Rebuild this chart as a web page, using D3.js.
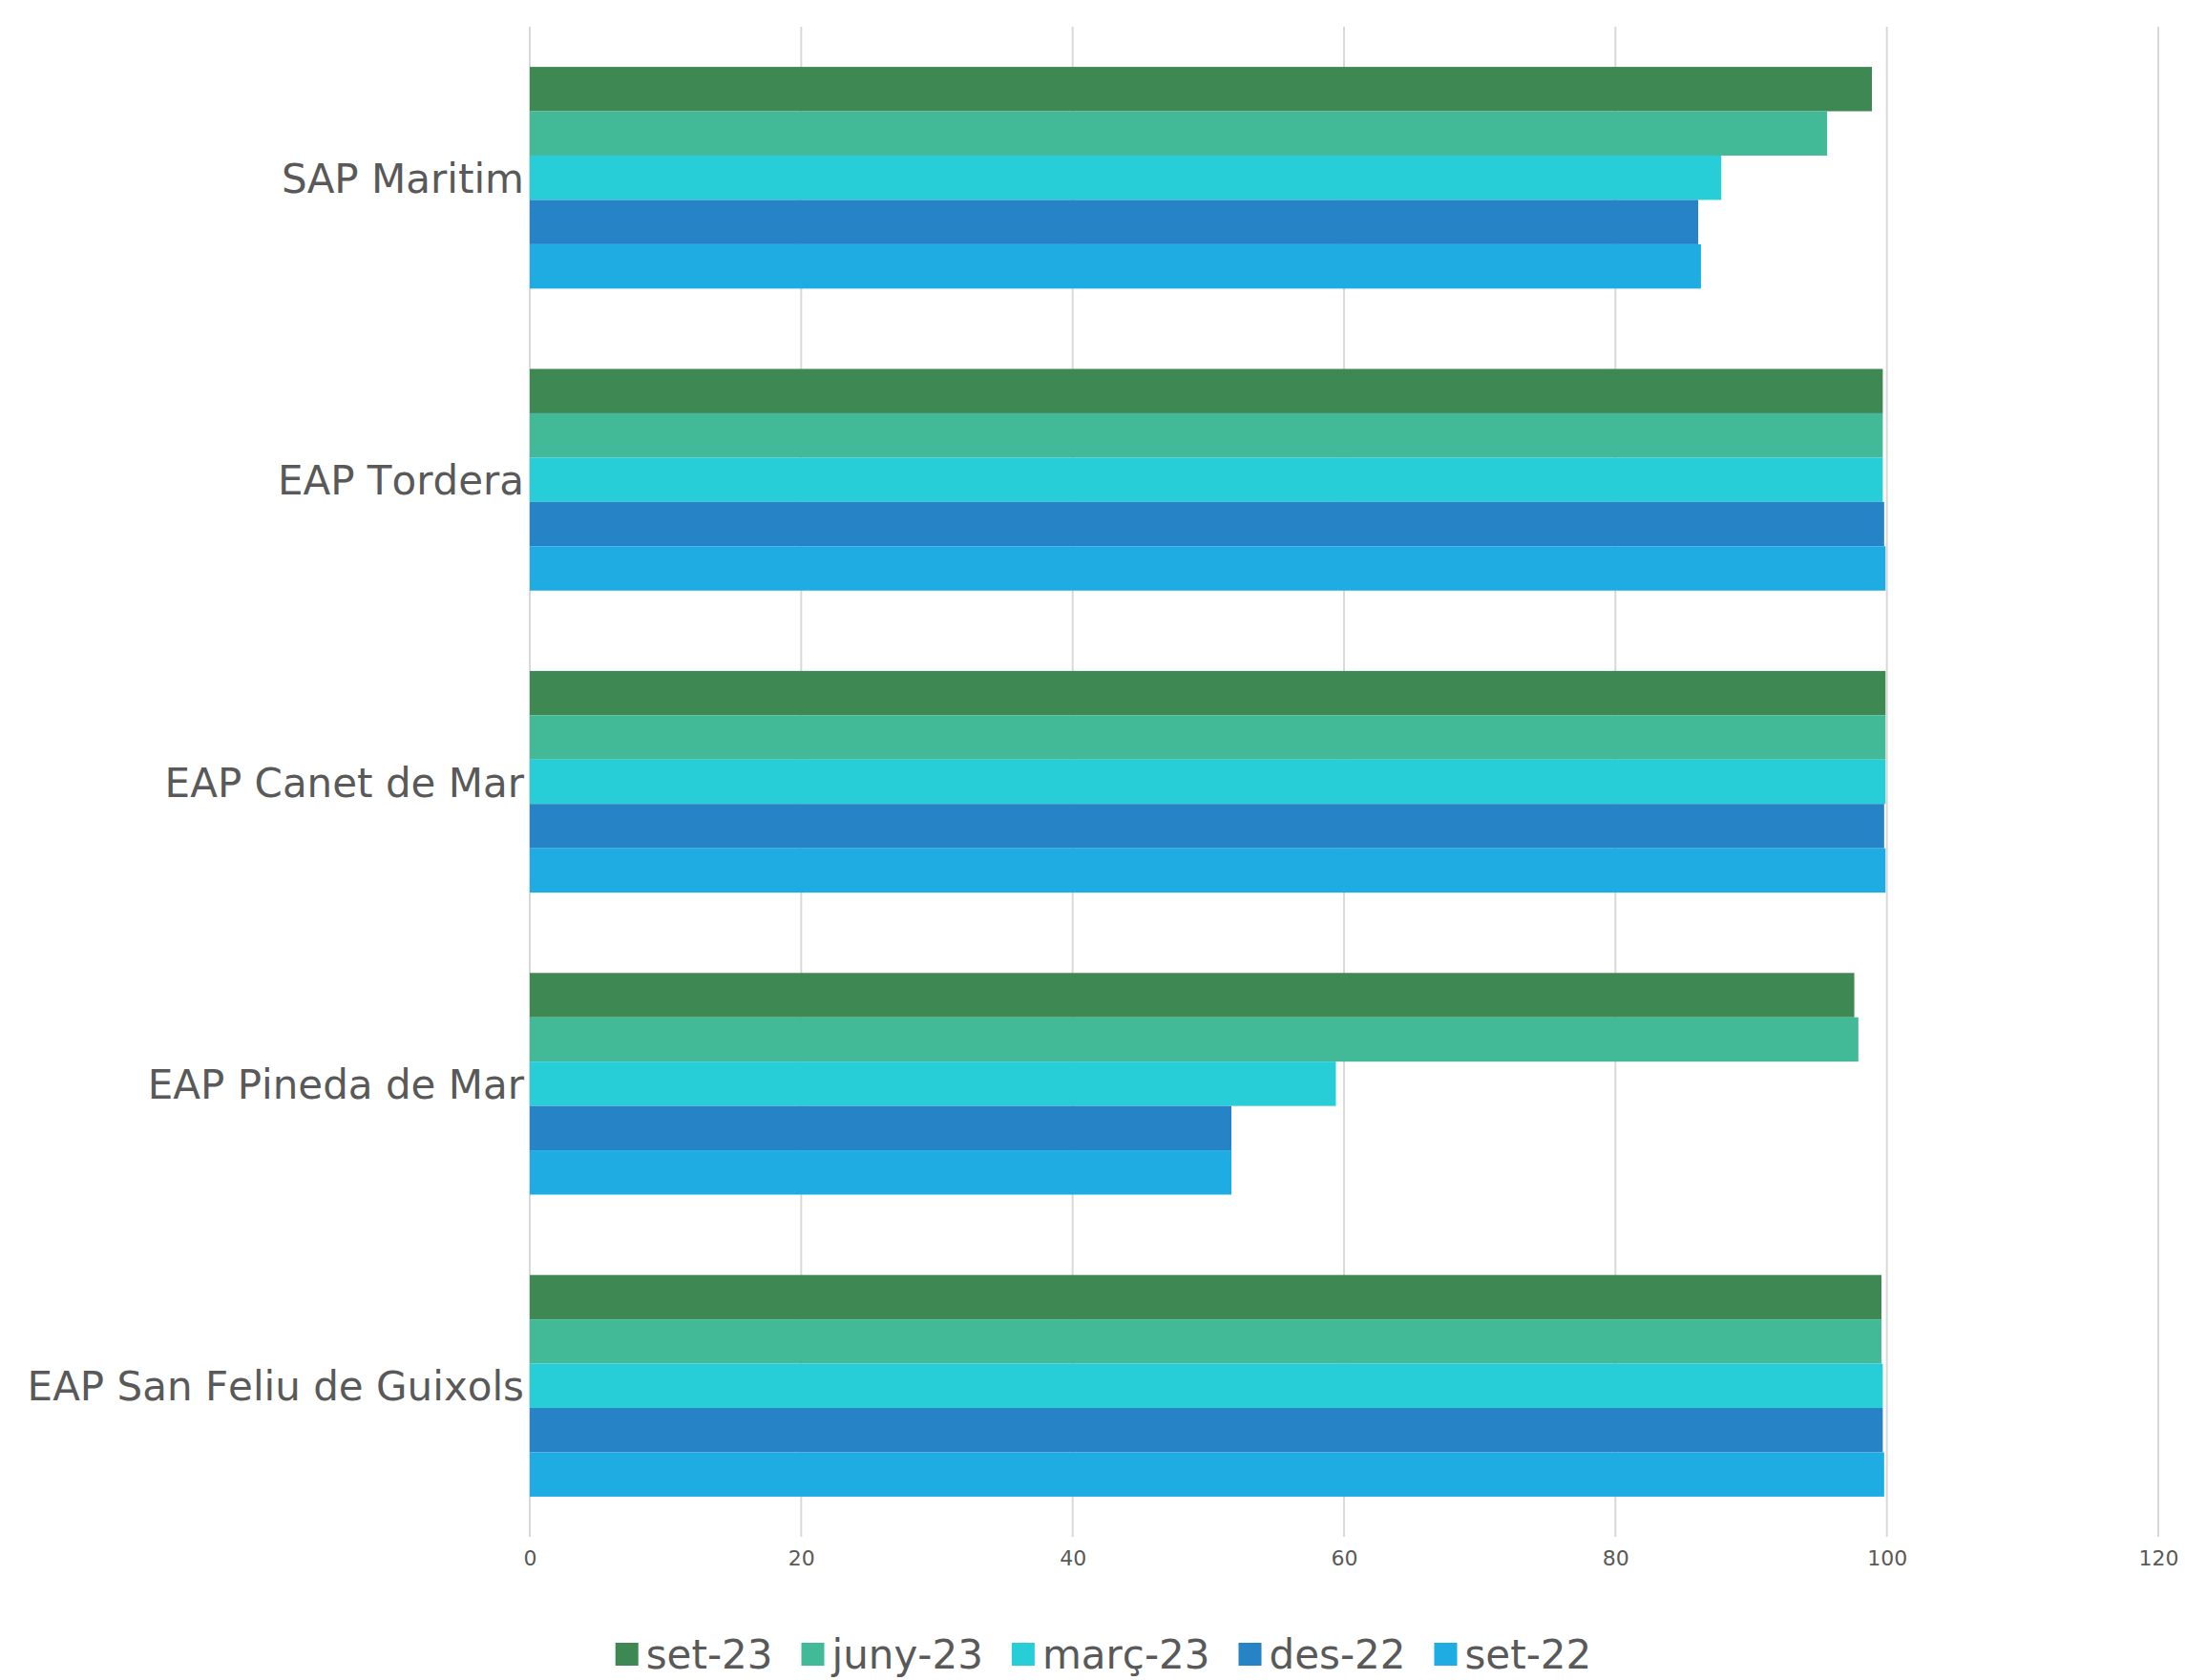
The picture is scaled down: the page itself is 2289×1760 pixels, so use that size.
<!DOCTYPE html>
<html>
<head>
<meta charset="utf-8">
<script src="https://cdn.jsdelivr.net/npm/d3@7"></script>
<style>
    body { margin: 0; background: #fff; }
    text { font-family: "DejaVu Sans", sans-serif; fill: #595959; font-kerning: none; }
</style>
</head>
<body>
<svg id="chart" width="2289" height="1760"></svg>
<script>
// categories (top to bottom)
const centres = ['SAP Maritim', 'EAP Tordera', 'EAP Canet de Mar', 'EAP Pineda de Mar', 'EAP San Feliu de Guixols'];

// series, in the order they are stacked inside each group
const seriesNames = ['set-23', 'juny-23', 'març-23', 'des-22', 'set-22'];
const seriesColors = ['#3E8853', '#43BA97', '#27CDD7', '#2683C6', '#1EACE3'];

// values per series, one per centre
const set23  = [98.9, 99.7, 99.9, 97.6, 99.6];
const juny23 = [95.6, 99.7, 99.9, 97.9, 99.6];
const marc23 = [87.8, 99.7, 99.9, 59.4, 99.7];
const des22  = [86.1, 99.8, 99.8, 51.7, 99.7];
const set22  = [86.3, 99.9, 99.9, 51.7, 99.8];

const xTicks = [0, 20, 40, 60, 80, 100, 120];

const seriesValues = [set23, juny23, marc23, des22, set22];

let svg = d3.select('#chart');

const plot = { left: 555, right: 2261, top: 28, bottom: 1610 };

const x = d3.scaleLinear()
    .domain([0, 120])
    .range([plot.left, plot.right]);

const y = d3.scaleBand()
    .domain(centres)
    .range([plot.top, plot.bottom])
    .paddingInner(0.266)
    .paddingOuter(0.133);

const ySub = d3.scaleBand()
    .domain(seriesNames)
    .range([0, y.bandwidth()]);

const color = d3.scaleOrdinal(seriesNames, seriesColors);

// vertical gridlines (the 0 line included)
svg.append('g')
    .selectAll('line')
    .data(xTicks)
    .join('line')
    .attr('x1', d => x(d))
    .attr('x2', d => x(d))
    .attr('y1', plot.top)
    .attr('y2', plot.bottom)
    .attr('stroke', '#d9d9d9')
    .attr('stroke-width', 2);

// bars
const groups = svg.append('g')
    .selectAll('g')
    .data(centres)
    .join('g')
    .attr('transform', d => `translate(0,${y(d)})`);

groups.selectAll('rect')
    .data((d, i) => seriesNames.map((s, j) => ({ serie: s, value: seriesValues[j][i] })))
    .join('rect')
    .attr('x', x(0))
    .attr('y', d => ySub(d.serie))
    .attr('width', d => x(d.value) - x(0))
    .attr('height', ySub.bandwidth())
    .attr('fill', d => color(d.serie));

// category axis (labels only)
const yAxis = svg.append('g')
    .attr('transform', `translate(${plot.left},0)`)
    .call(d3.axisLeft(y).tickSize(0).tickPadding(6));
yAxis.select('.domain').remove();
yAxis.selectAll('text')
    .attr('font-size', '42px')
    .attr('dy', '0.37em')
    .attr('font-family', '"DejaVu Sans", sans-serif')
    .attr('fill', '#595959');

// value axis
const xAxis = svg.append('g')
    .attr('transform', `translate(0,${plot.bottom})`)
    .call(d3.axisBottom(x).tickValues(xTicks).tickSize(0).tickPadding(14));
xAxis.select('.domain').remove();
xAxis.selectAll('text')
    .attr('font-size', '22px')
    .attr('font-family', '"DejaVu Sans", sans-serif')
    .attr('fill', '#595959');

// legend
const legend = svg.append('g');
let cursor = 0;
seriesNames.forEach((s, i) => {
    let item = legend.append('g').attr('transform', `translate(${cursor},0)`);
    item.append('rect')
        .attr('x', 0)
        .attr('y', -12)
        .attr('width', 24)
        .attr('height', 24)
        .attr('fill', color(s));
    let label = item.append('text')
        .attr('x', 32)
        .attr('dy', '0.35em')
        .attr('font-size', '42px')
        .text(s);
    cursor += 32 + label.node().getComputedTextLength() + 30;
});
const legendWidth = cursor - 30;
legend.attr('transform', `translate(${1156 - legendWidth / 2},1733)`);
</script>
</body>
</html>
